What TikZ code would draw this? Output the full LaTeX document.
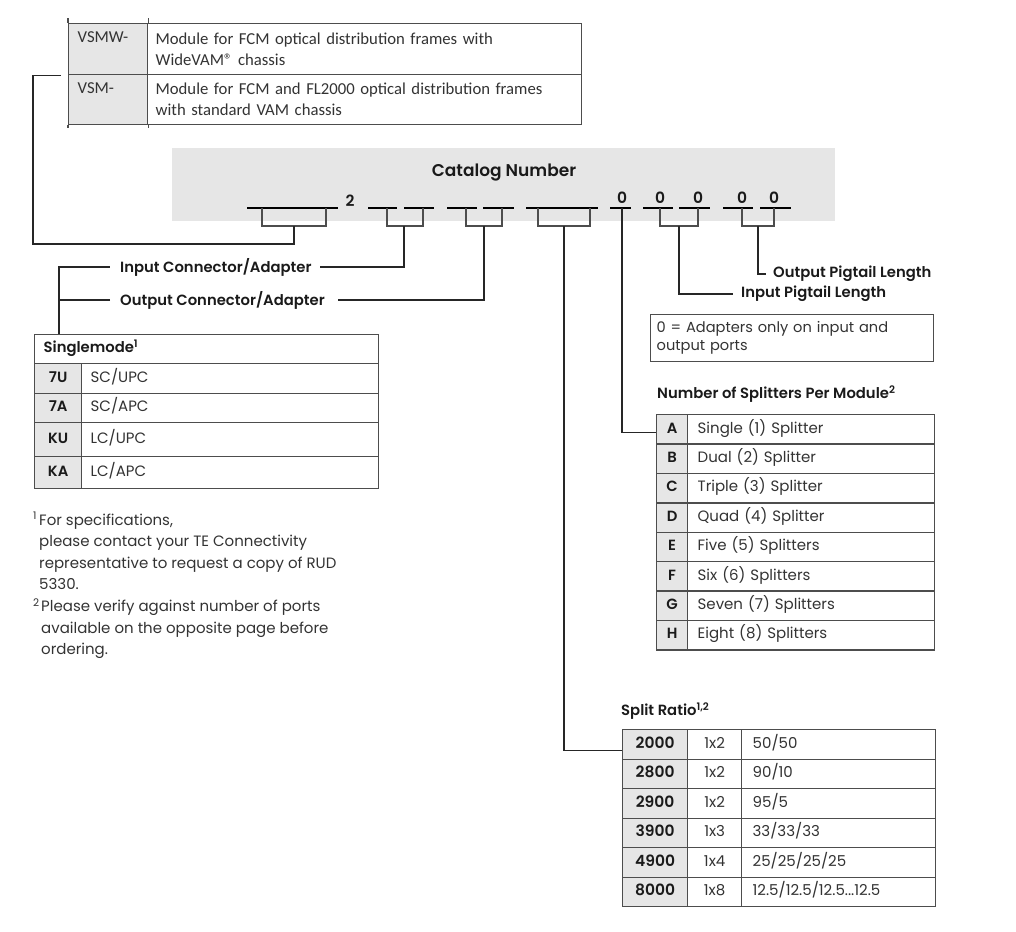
\documentclass[tikz,border=0pt]{standalone}
\usepackage{fontspec}
\setmainfont{Poppins}[BoldFont={Poppins SemiBold}]
\newfontfamily\calfont{Carlito}
\definecolor{cellgray}{HTML}{E6E6E6}
\definecolor{linegray}{HTML}{4D4D4D}
\definecolor{txt}{HTML}{333333}
\definecolor{boldtxt}{HTML}{1A1A1A}
\newcommand\regfont{\fontsize{15}{17}\selectfont}
\newcommand\boldfont{\bfseries\fontsize{14.8}{17}\selectfont}
% row macros
\newcommand\smrow[5]{% name, y, h, code, desc
  \node[codecell,minimum width=47pt,minimum height=#3pt] (#1c) at (34,#2) {#4};
  \node[desccell,text width=279pt,inner xsep=9pt,minimum height=#3pt] (#1d) at (81,#2) {#5};}
\newcommand\sprow[3]{% name, y, desc
  \node[codecell,minimum width=31pt,minimum height=29.4pt] (#1c) at (656,#2) {#1};
  \node[desccell,text width=227pt,inner xsep=10pt,minimum height=29.4pt] (#1d) at (687,#2) {#3};}
\newcommand\srrow[5]{% name, y, code, mid, ratio
  \node[codecell,font=\bfseries\fontsize{15.5}{17}\selectfont,minimum width=65pt,minimum height=29.5pt] (#1a) at (622,#2) {#3};
  \node[desccell,minimum width=54pt,minimum height=29.5pt] (#1b) at (687,#2) {#4};
  \node[desccell,text width=172pt,inner xsep=11pt,minimum height=29.5pt] (#1c) at (741,#2) {#5};}
\begin{document}
\begin{tikzpicture}[x=1pt,y=-1pt,
  every node/.style={inner sep=0pt},
  tline/.style={draw=linegray,line width=1.3pt},
  codecell/.style={tline,fill=cellgray,anchor=north west,font=\boldfont,text=boldtxt,text height=10.5pt,text depth=3pt},
  desccell/.style={tline,fill=white,anchor=north west,align=left,font=\regfont,text=txt,text height=10.5pt,text depth=3pt},
  topcell/.style={tline,anchor=north west,align=left,font=\calfont\fontsize{16.7}{21}\selectfont,text=txt},
  lab/.style={anchor=west,font=\boldfont,text=boldtxt},
  digit/.style={font=\bfseries\fontsize{15.5}{17}\selectfont,text=boldtxt},
  uline/.style={draw=black,line width=1.5pt},
  bline/.style={draw=linegray,line width=1.3pt},
  conn/.style={draw=black!85,line width=1.2pt}]
\useasboundingbox (0,0) rectangle (1016,931);

% ---------- top table ----------
\node[topcell,fill=cellgray,minimum width=79pt,minimum height=51pt,text width=61pt,inner xsep=9pt] (vsmwc) at (68,23) {VSMW-\\\phantom{Ag}};
\node[topcell,fill=white,minimum width=434pt,minimum height=51pt,text width=418pt,inner xsep=8pt] (vsmwd) at (147,23) {Module for FCM optical distribution frames with\\WideVAM® chassis};
\node[topcell,fill=cellgray,minimum width=79pt,minimum height=50pt,text width=61pt,inner xsep=9pt] (vsmc) at (68,74) {VSM-\\\phantom{Ag}};
\node[topcell,fill=white,minimum width=434pt,minimum height=50pt,text width=418pt,inner xsep=8pt] (vsmd) at (147,74) {Module for FCM and FL2000 optical distribution frames\\with standard VAM chassis};
\draw[tline] (vsmwc.north west) -- ++(0,-5);
\draw[tline] (vsmwc.north east) -- ++(0,-5);
\draw[tline] (vsmc.south west) -- ++(0,3);
\draw[tline] (vsmc.south east) -- ++(0,3);

% ---------- catalog number ----------
\node[fill=cellgray,anchor=north west,minimum width=663pt,minimum height=73pt] (catbox) at (172,148) {};
\node[font=\bfseries\fontsize{17}{20}\selectfont,text=boldtxt] (cattitle) at (504,173) {Catalog Number};
\node[digit] (d2) at (350,201) {2};
\node[digit] (z1) at (622,198) {0};
\node[digit] (z2) at (660,198) {0};
\node[digit] (z3) at (698,198) {0};
\node[digit] (z4) at (742,198) {0};
\node[digit] (z5) at (774,198) {0};
\draw[uline] (247,208) -- (338,208);
\draw[uline] (368,208) -- (397,208);
\draw[uline] (404,208) -- (434,208);
\draw[uline] (447,208) -- (477,208);
\draw[uline] (483,208) -- (514,208);
\draw[uline] (526,208) -- (598,208);
\draw[uline] (610,208) -- (631,208);
\draw[uline] (643,208) -- (673,208);
\draw[uline] (679,208) -- (710,208);
\draw[uline] (723,208) -- (753,208);
\draw[uline] (760,208) -- (791,208);
% brackets
\draw[bline] (262,208) -- (262,226) -- (326,226) -- (326,208);
\draw[bline] (387,208) -- (387,226) -- (423,226) -- (423,208);
\draw[bline] (466,208) -- (466,226) -- (502,226) -- (502,208);
\draw[bline] (538,208) -- (538,226) -- (590,226) -- (590,208);
\draw[bline] (660,208) -- (660,226) -- (698,226) -- (698,208);
\draw[bline] (742,208) -- (742,226) -- (774,226) -- (774,208);
\coordinate (b1) at (294,226);
\coordinate (b2) at (404,226);
\coordinate (b3) at (484,226);
\coordinate (b4) at (564,226);
\coordinate (b5) at (622,208);
\coordinate (b6) at (679,226);
\coordinate (b7) at (758,226);

% ---------- labels ----------
\node[lab] (inlab) at (120,267) {Input Connector/Adapter};
\node[lab] (outlab) at (120,300) {Output Connector/Adapter};
\node[lab] (optlab) at (773,274) {Output Pigtail Length};
\node[lab] (iptlab) at (741,294) {Input Pigtail Length};
\node[tline,anchor=north west,minimum width=283pt,minimum height=47pt,text width=271pt,inner xsep=6pt,align=left,font=\fontsize{14.6}{18}\selectfont,text=txt] (note) at (650,314) {0 = Adapters only on input and\\output ports};
\node[lab] (nsplab) at (657,394) {Number of Splitters Per Module\textsuperscript{2}};
\node[lab] (srlab) at (621,711) {Split Ratio\textsuperscript{1,2}};

% ---------- singlemode table ----------
\node[desccell,font=\boldfont,text=boldtxt,text width=326pt,inner xsep=9pt,minimum height=29pt] (smh) at (34,334) {Singlemode\textsuperscript{1}};
\smrow{su}{363}{30}{7U}{SC/UPC}
\smrow{sa}{393}{29}{7A}{SC/APC}
\smrow{ku}{422}{34}{KU}{LC/UPC}
\smrow{ka}{456}{32}{KA}{LC/APC}

% ---------- footnotes ----------
\node[anchor=north west,align=left,font=\fontsize{15}{21.6}\selectfont,text=txt] (fn) at (33,512) {%
\makebox[6pt][l]{\textsuperscript{1}}For specifications,\\
\hspace*{6pt}please contact your TE Connectivity\\
\hspace*{6pt}representative to request a copy of RUD\\
\hspace*{6pt}5330.\\
\makebox[8pt][l]{\textsuperscript{2}}Please verify against number of ports\\
\hspace*{8pt}available on the opposite page before\\
\hspace*{8pt}ordering.};

% ---------- splitters table ----------
\sprow{A}{414}{Single (1) Splitter}
\sprow{B}{443.4}{Dual (2) Splitter}
\sprow{C}{472.8}{Triple (3) Splitter}
\sprow{D}{502.2}{Quad (4) Splitter}
\sprow{E}{531.6}{Five (5) Splitters}
\sprow{F}{561}{Six (6) Splitters}
\sprow{G}{590.4}{Seven (7) Splitters}
\sprow{H}{619.8}{Eight (8) Splitters}

% ---------- split ratio table ----------
\srrow{r1}{729}{2000}{1x2}{50/50}
\srrow{r2}{758.5}{2800}{1x2}{90/10}
\srrow{r3}{788}{2900}{1x2}{95/5}
\srrow{r4}{817.5}{3900}{1x3}{33/33/33}
\srrow{r5}{847}{4900}{1x4}{25/25/25/25}
\srrow{r6}{876.5}{8000}{1x8}{12.5/12.5/12.5...12.5}

% ---------- connectors ----------
\draw[conn] (b1) -- ++(0,18) -| ([xshift=-35pt]vsmwc.south west) -- ([xshift=-7pt]vsmwc.south west);
\draw[conn] (b2) |- ([xshift=8pt]inlab.east);
\draw[conn] (b3) |- ([xshift=13pt]outlab.east);
\draw[conn] (b4) |- ([yshift=-6pt]r1a.west);
\draw[conn] (b5) |- ([yshift=-3pt]Ac.west);
\draw[conn] (b6) |- ([xshift=-8pt]iptlab.west);
\draw[conn] (b7) |- ([xshift=-7pt]optlab.west);
\draw[conn] ([xshift=25pt]smh.north west) |- ([xshift=-10pt]inlab.west);
\draw[conn] ([xshift=-10pt]outlab.west) -- ([xshift=-61pt]outlab.west);
\end{tikzpicture}
\end{document}
